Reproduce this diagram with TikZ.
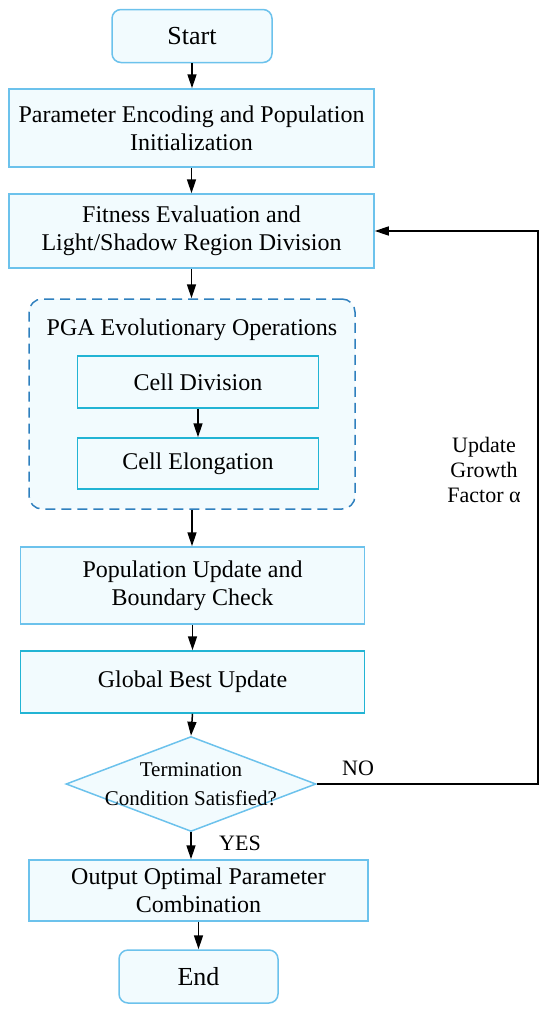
\documentclass[tikz,border=0pt]{standalone}
\usepackage{fontspec}
\setmainfont{Liberation Serif}
\usepackage{tikz}
\usetikzlibrary{shapes.geometric}
\usetikzlibrary{arrows.meta}
\definecolor{boxline}{HTML}{6CC2EC}
\definecolor{boxfill}{HTML}{F2FBFE}
\definecolor{cellline}{HTML}{22B4D4}
\definecolor{dashline}{HTML}{2F80BE}
\tikzstyle{block}=[draw=boxline, fill=boxfill, line width=1.5pt, inner sep=0pt, align=center, font=\fontsize{24}{28}\selectfont]
\tikzstyle{box}=[block, rectangle]
\tikzstyle{cbox}=[block, rectangle, draw=cellline]
\tikzstyle{rbox}=[block, rectangle, rounded corners=9pt, font=\fontsize{26}{30}\selectfont]
\tikzstyle{decision}=[block, diamond, inner sep=0pt]
\tikzstyle{group}=[draw=dashline, fill=boxfill, line width=1.5pt, dash pattern=on 10pt off 6pt, rounded corners=13pt]
\tikzstyle{arr}=[line width=1.5pt, -{Triangle[length=14pt, width=9pt]}]
\tikzstyle{lbl}=[inner sep=0pt, align=center, font=\fontsize{22}{25}\selectfont]

\begin{document}
\begin{tikzpicture}[x=1pt, y=-1pt]
        \useasboundingbox (0, 0) rectangle (550, 1012);
        \node[group, minimum width=326pt, minimum height=210pt] (pga) at (192, 404) {};
        \node[lbl, font=\fontsize{24}{28}\selectfont] (pgatitle) at (192, 330) {PGA Evolutionary Operations};
        \node[rbox, minimum width=160pt, minimum height=53pt] (start) at (192, 36) {Start};
        \node[box, minimum width=365pt, minimum height=78pt] (param) at (191.5, 128) {Parameter Encoding and Population\\Initialization};
        \node[box, minimum width=365pt, minimum height=74pt] (fit) at (191.5, 231) {Fitness Evaluation and\\Light/Shadow Region Division};
        \node[cbox, minimum width=241pt, minimum height=52pt] (div) at (198, 382) {Cell Division};
        \node[cbox, minimum width=241pt, minimum height=51pt] (elong) at (198, 463.5) {Cell Elongation};
        \node[box, minimum width=344pt, minimum height=77pt] (pop) at (192.5, 585.5) {Population Update and\\Boundary Check};
        \node[cbox, minimum width=344pt, minimum height=62pt] (best) at (192.5, 682) {Global Best Update};
        \node[decision, minimum width=250pt, minimum height=95pt] (dec) at (191, 784) {};
        \node[lbl, font=\fontsize{21}{29}\selectfont] (dectext) at (191, 784) {Termination\\Condition Satisfied?};
        \node[box, minimum width=339pt, minimum height=61pt] (out) at (198.5, 890.5) {Output Optimal Parameter\\Combination};
        \node[rbox, minimum width=159pt, minimum height=53pt] (end) at (198.5, 976.5) {End};
        \coordinate (loop) at (538, 784);
        \node[lbl] (no) at (358, 768) {NO};
        \node[lbl] (yes) at (240, 843) {YES};
        \node[lbl] (growth) at (484, 470) {Update\\Growth\\Factor α};
        \draw[arr] (start) -- (start |- param.north);
        \draw[arr] (param) -- (param |- fit.north);
        \draw[arr] (fit.south) -- (fit.south |- pga.north);
        \draw[arr] (div) -- (div |- elong.north);
        \draw[arr] (pga.south) -- (pga.south |- pop.north);
        \draw[arr] (pop) -- (pop |- best.north);
        \draw[arr] (best.south) -- (dec.north);
        \draw[arr] (dec.south) -- (dec.south |- out.north);
        \draw[arr] (out) -- (out |- end.north);
        \draw[arr] (dec.east) -- (loop) |- (fit.east);
    \end{tikzpicture}
\end{document}
